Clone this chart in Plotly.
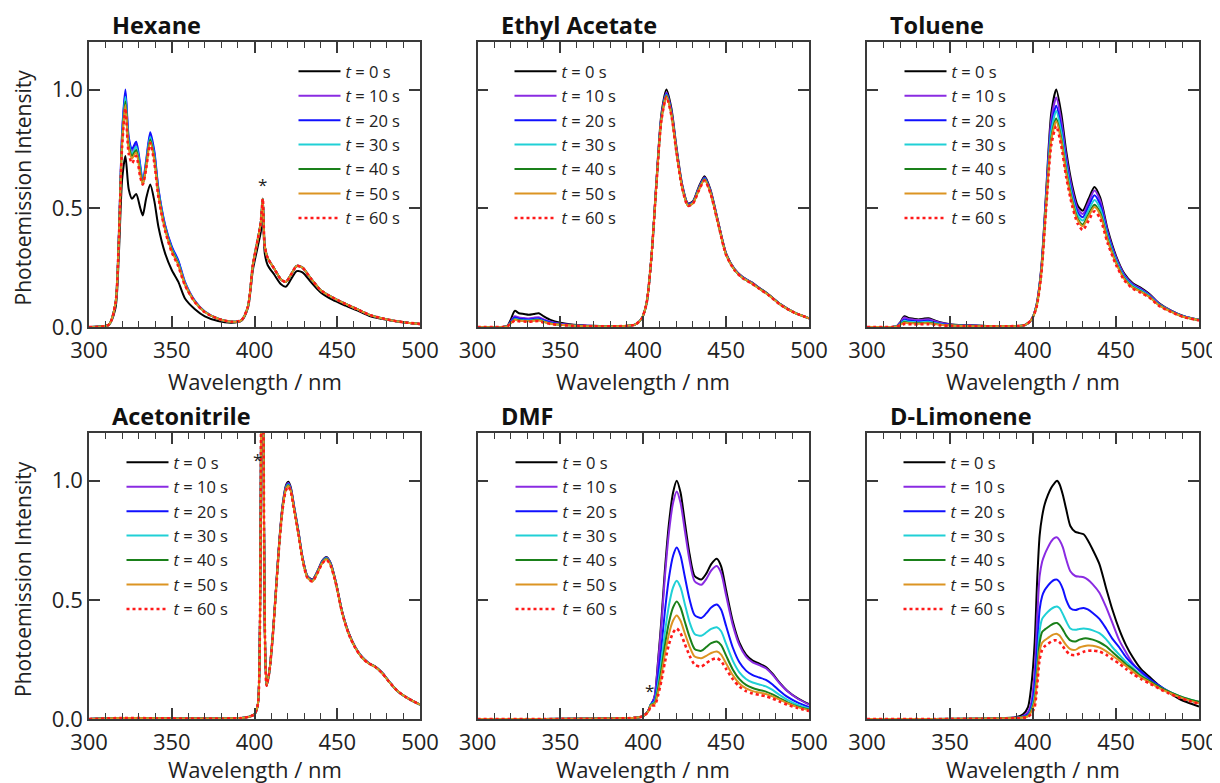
import plotly.graph_objects as go

# ---------------- data ----------------
times = ["0", "10", "20", "30", "40", "50", "60"]
colors = ["#000000", "#8a2be2", "#1010ff", "#20d0d6", "#1a801a", "#dc9422", "#ff1a1a"]

panel_titles = ["Hexane", "Ethyl Acetate", "Toluene", "Acetonitrile", "DMF", "D-Limonene"]

# Hexane
wl_hexane = [300, 312, 316, 318, 320, 322, 324, 326, 328.5, 331, 332.5, 334.5, 337, 339.5, 342, 346, 350, 354, 358, 364, 370, 378, 386, 392, 396, 399, 402, 403.8, 405, 406.2, 408, 412, 416, 419, 422, 425.5, 429, 434, 440, 447, 455, 462, 470, 480, 490, 500]
hexane_t0 = [0, 0.01, 0.08, 0.3, 0.62, 0.72, 0.58, 0.54, 0.56, 0.5, 0.47, 0.54, 0.6, 0.53, 0.42, 0.31, 0.24, 0.19, 0.12, 0.075, 0.045, 0.025, 0.018, 0.025, 0.08, 0.24, 0.34, 0.4, 0.46, 0.31, 0.26, 0.22, 0.18, 0.17, 0.2, 0.235, 0.23, 0.19, 0.145, 0.115, 0.09, 0.07, 0.045, 0.03, 0.02, 0.012]
hexane_t10 = [0, 0.01, 0.1, 0.38, 0.81, 0.985, 0.79, 0.74, 0.77, 0.67, 0.605, 0.69, 0.81, 0.73, 0.575, 0.425, 0.335, 0.275, 0.185, 0.108, 0.064, 0.035, 0.022, 0.028, 0.085, 0.26, 0.37, 0.44, 0.54, 0.34, 0.29, 0.245, 0.2, 0.19, 0.22, 0.257, 0.25, 0.205, 0.155, 0.125, 0.097, 0.075, 0.05, 0.032, 0.02, 0.013]
hexane_t20 = [0, 0.01, 0.1, 0.38, 0.82, 1.0, 0.8, 0.75, 0.78, 0.68, 0.61, 0.7, 0.82, 0.74, 0.58, 0.43, 0.34, 0.28, 0.19, 0.11, 0.065, 0.035, 0.022, 0.028, 0.085, 0.26, 0.37, 0.44, 0.54, 0.34, 0.29, 0.245, 0.2, 0.19, 0.22, 0.257, 0.25, 0.205, 0.155, 0.125, 0.097, 0.075, 0.05, 0.032, 0.02, 0.013]
hexane_t30 = [0, 0.01, 0.1, 0.37, 0.8, 0.97, 0.78, 0.73, 0.76, 0.665, 0.6, 0.69, 0.8, 0.72, 0.57, 0.42, 0.33, 0.27, 0.185, 0.107, 0.064, 0.035, 0.022, 0.028, 0.085, 0.26, 0.37, 0.44, 0.54, 0.34, 0.29, 0.245, 0.2, 0.19, 0.22, 0.257, 0.25, 0.205, 0.155, 0.125, 0.097, 0.075, 0.05, 0.032, 0.02, 0.013]
hexane_t40 = [0, 0.01, 0.1, 0.37, 0.78, 0.95, 0.765, 0.72, 0.745, 0.65, 0.6, 0.68, 0.79, 0.71, 0.56, 0.415, 0.325, 0.265, 0.18, 0.106, 0.063, 0.035, 0.022, 0.028, 0.085, 0.26, 0.37, 0.44, 0.54, 0.34, 0.29, 0.245, 0.2, 0.19, 0.22, 0.257, 0.25, 0.205, 0.155, 0.125, 0.097, 0.075, 0.05, 0.032, 0.02, 0.013]
hexane_t50 = [0, 0.01, 0.1, 0.36, 0.77, 0.935, 0.75, 0.71, 0.735, 0.64, 0.6, 0.67, 0.78, 0.7, 0.55, 0.41, 0.32, 0.26, 0.18, 0.105, 0.063, 0.035, 0.022, 0.028, 0.085, 0.26, 0.37, 0.44, 0.54, 0.34, 0.29, 0.245, 0.2, 0.19, 0.22, 0.257, 0.25, 0.205, 0.155, 0.125, 0.097, 0.075, 0.05, 0.032, 0.02, 0.013]
hexane_t60 = [0, 0.01, 0.1, 0.36, 0.76, 0.92, 0.73, 0.69, 0.72, 0.63, 0.6, 0.665, 0.775, 0.69, 0.545, 0.405, 0.315, 0.255, 0.175, 0.104, 0.062, 0.035, 0.022, 0.028, 0.085, 0.26, 0.37, 0.44, 0.54, 0.34, 0.29, 0.245, 0.2, 0.19, 0.22, 0.257, 0.25, 0.205, 0.155, 0.125, 0.097, 0.075, 0.05, 0.032, 0.02, 0.013]

# Ethyl Acetate
wl_ethyl = [300, 315, 318, 320, 322.5, 325, 328, 331, 334, 337, 340, 344, 350, 358, 370, 385, 395, 399, 402, 405, 408, 411, 414, 417, 420, 423.5, 427, 430, 433.5, 437, 440.5, 445, 450, 455, 460, 465, 470, 476, 483, 491, 500]
ethyl_t0 = [0, 0, 0.005, 0.03, 0.068, 0.058, 0.055, 0.052, 0.055, 0.058, 0.045, 0.03, 0.018, 0.01, 0.005, 0.003, 0.01, 0.035, 0.1, 0.3, 0.62, 0.9, 1.0, 0.92, 0.76, 0.6, 0.52, 0.53, 0.59, 0.635, 0.58, 0.45, 0.31, 0.245, 0.21, 0.19, 0.165, 0.135, 0.095, 0.062, 0.037]
ethyl_t10 = [0, 0, 0.004, 0.022, 0.045, 0.04, 0.038, 0.036, 0.039, 0.041, 0.032, 0.022, 0.014, 0.008, 0.004, 0.003, 0.01, 0.035, 0.1, 0.3, 0.615, 0.89, 0.987, 0.91, 0.752, 0.595, 0.517, 0.527, 0.585, 0.63, 0.575, 0.447, 0.308, 0.244, 0.209, 0.189, 0.164, 0.134, 0.094, 0.062, 0.037]
ethyl_t20 = [0, 0, 0.004, 0.02, 0.04, 0.035, 0.033, 0.031, 0.034, 0.036, 0.028, 0.019, 0.012, 0.007, 0.004, 0.003, 0.01, 0.035, 0.1, 0.3, 0.612, 0.885, 0.982, 0.905, 0.748, 0.592, 0.515, 0.525, 0.582, 0.627, 0.572, 0.445, 0.307, 0.243, 0.208, 0.188, 0.163, 0.134, 0.094, 0.062, 0.037]
ethyl_t30 = [0, 0, 0.003, 0.017, 0.034, 0.03, 0.028, 0.027, 0.03, 0.031, 0.024, 0.016, 0.01, 0.006, 0.003, 0.003, 0.01, 0.035, 0.1, 0.3, 0.61, 0.882, 0.978, 0.9, 0.745, 0.59, 0.513, 0.523, 0.58, 0.624, 0.57, 0.443, 0.306, 0.242, 0.207, 0.187, 0.162, 0.133, 0.093, 0.061, 0.037]
ethyl_t40 = [0, 0, 0.003, 0.016, 0.032, 0.028, 0.026, 0.025, 0.028, 0.029, 0.022, 0.015, 0.009, 0.006, 0.003, 0.003, 0.01, 0.035, 0.1, 0.3, 0.608, 0.878, 0.975, 0.897, 0.742, 0.588, 0.512, 0.522, 0.578, 0.622, 0.568, 0.442, 0.305, 0.241, 0.206, 0.186, 0.162, 0.133, 0.093, 0.061, 0.037]
ethyl_t50 = [0, 0, 0.003, 0.015, 0.03, 0.026, 0.025, 0.024, 0.026, 0.027, 0.021, 0.014, 0.009, 0.005, 0.003, 0.003, 0.01, 0.035, 0.1, 0.3, 0.606, 0.875, 0.972, 0.894, 0.74, 0.586, 0.511, 0.521, 0.576, 0.62, 0.566, 0.441, 0.304, 0.241, 0.206, 0.186, 0.161, 0.132, 0.093, 0.061, 0.037]
ethyl_t60 = [0, 0, 0.003, 0.013, 0.027, 0.024, 0.023, 0.022, 0.024, 0.025, 0.019, 0.013, 0.008, 0.005, 0.003, 0.003, 0.01, 0.035, 0.1, 0.3, 0.604, 0.872, 0.968, 0.89, 0.737, 0.584, 0.51, 0.52, 0.574, 0.617, 0.564, 0.44, 0.303, 0.24, 0.205, 0.185, 0.161, 0.132, 0.092, 0.061, 0.037]

# Toluene
wl_toluene = [300, 315, 318, 320, 322.5, 325, 328, 331, 334, 337, 340, 344, 350, 358, 370, 385, 395, 399, 402, 405, 408, 411, 414, 417, 420, 423.5, 427, 430, 433.5, 437, 440.5, 445, 450, 455, 460, 465, 470, 476, 483, 491, 500]
toluene_t0 = [0, 0, 0.004, 0.02, 0.045, 0.038, 0.035, 0.032, 0.035, 0.037, 0.03, 0.02, 0.012, 0.008, 0.005, 0.003, 0.008, 0.03, 0.09, 0.25, 0.58, 0.9, 1.0, 0.9, 0.74, 0.6, 0.51, 0.49, 0.54, 0.59, 0.545, 0.41, 0.3, 0.225, 0.185, 0.165, 0.14, 0.1, 0.07, 0.045, 0.03]
toluene_t10 = [0, 0, 0.004, 0.018, 0.04, 0.034, 0.031, 0.029, 0.031, 0.033, 0.027, 0.018, 0.011, 0.007, 0.004, 0.003, 0.008, 0.03, 0.088, 0.245, 0.565, 0.872, 0.966, 0.87, 0.718, 0.583, 0.496, 0.476, 0.526, 0.575, 0.532, 0.4, 0.293, 0.22, 0.181, 0.161, 0.137, 0.098, 0.069, 0.044, 0.03]
toluene_t20 = [0, 0, 0.003, 0.014, 0.031, 0.027, 0.025, 0.023, 0.025, 0.026, 0.021, 0.014, 0.009, 0.006, 0.004, 0.003, 0.008, 0.03, 0.086, 0.24, 0.55, 0.842, 0.932, 0.84, 0.695, 0.565, 0.482, 0.462, 0.508, 0.555, 0.515, 0.39, 0.286, 0.215, 0.177, 0.157, 0.134, 0.096, 0.068, 0.044, 0.03]
toluene_t30 = [0, 0, 0.003, 0.012, 0.026, 0.022, 0.021, 0.019, 0.021, 0.022, 0.018, 0.012, 0.008, 0.005, 0.003, 0.003, 0.008, 0.03, 0.085, 0.235, 0.54, 0.825, 0.91, 0.822, 0.68, 0.552, 0.47, 0.448, 0.492, 0.535, 0.498, 0.38, 0.28, 0.21, 0.173, 0.154, 0.131, 0.094, 0.067, 0.043, 0.03]
toluene_t40 = [0, 0, 0.002, 0.01, 0.021, 0.018, 0.017, 0.016, 0.017, 0.018, 0.015, 0.01, 0.007, 0.005, 0.003, 0.003, 0.008, 0.03, 0.083, 0.23, 0.525, 0.795, 0.878, 0.793, 0.657, 0.535, 0.455, 0.432, 0.475, 0.515, 0.48, 0.368, 0.272, 0.205, 0.168, 0.15, 0.128, 0.092, 0.066, 0.042, 0.029]
toluene_t50 = [0, 0, 0.002, 0.009, 0.018, 0.016, 0.015, 0.014, 0.015, 0.016, 0.013, 0.009, 0.006, 0.004, 0.003, 0.003, 0.008, 0.03, 0.082, 0.228, 0.52, 0.785, 0.866, 0.783, 0.648, 0.527, 0.448, 0.424, 0.466, 0.505, 0.472, 0.363, 0.269, 0.202, 0.166, 0.148, 0.127, 0.091, 0.065, 0.042, 0.029]
toluene_t60 = [0, 0, 0.002, 0.007, 0.013, 0.012, 0.011, 0.011, 0.012, 0.012, 0.01, 0.007, 0.005, 0.004, 0.003, 0.003, 0.008, 0.03, 0.08, 0.222, 0.508, 0.765, 0.846, 0.763, 0.632, 0.513, 0.434, 0.408, 0.448, 0.487, 0.456, 0.352, 0.262, 0.197, 0.162, 0.144, 0.124, 0.089, 0.064, 0.041, 0.028]

# Acetonitrile
wl_acetonitrile = [300, 320, 340, 360, 380, 392, 397, 400, 402, 403.3, 404, 404.7, 405.4, 406.2, 407.3, 409, 411, 413, 415, 417, 419, 420.5, 422, 424, 426.5, 429, 432, 435, 438, 441, 443.5, 446, 449, 453, 457, 461, 465, 469, 473, 477, 481, 486, 492, 500]
acetonitrile_t0 = [0, 0.004, 0.003, 0.002, 0.002, 0.004, 0.01, 0.02, 0.06, 0.4, 1.3, 2.0, 1.3, 0.4, 0.14, 0.2, 0.35, 0.55, 0.75, 0.9, 0.98, 0.995, 0.97, 0.89, 0.79, 0.68, 0.6, 0.585, 0.62, 0.665, 0.68, 0.655, 0.58, 0.45, 0.36, 0.3, 0.26, 0.235, 0.22, 0.195, 0.16, 0.12, 0.09, 0.06]
acetonitrile_t10 = [0, 0.004, 0.003, 0.002, 0.002, 0.004, 0.01, 0.02, 0.06, 0.4, 1.3, 2.0, 1.3, 0.4, 0.14, 0.2, 0.348, 0.547, 0.746, 0.895, 0.975, 0.99, 0.965, 0.886, 0.787, 0.678, 0.598, 0.583, 0.618, 0.663, 0.678, 0.653, 0.578, 0.449, 0.359, 0.3, 0.26, 0.235, 0.22, 0.195, 0.16, 0.12, 0.09, 0.06]
acetonitrile_t20 = [0, 0.004, 0.003, 0.002, 0.002, 0.004, 0.01, 0.02, 0.06, 0.4, 1.3, 2.0, 1.3, 0.4, 0.14, 0.2, 0.347, 0.545, 0.743, 0.892, 0.972, 0.987, 0.962, 0.884, 0.785, 0.676, 0.597, 0.582, 0.617, 0.661, 0.676, 0.651, 0.577, 0.448, 0.358, 0.299, 0.259, 0.234, 0.219, 0.194, 0.16, 0.12, 0.09, 0.06]
acetonitrile_t30 = [0, 0.004, 0.003, 0.002, 0.002, 0.004, 0.01, 0.02, 0.06, 0.4, 1.3, 2.0, 1.3, 0.4, 0.14, 0.2, 0.346, 0.543, 0.741, 0.889, 0.969, 0.984, 0.959, 0.881, 0.783, 0.674, 0.595, 0.58, 0.615, 0.659, 0.674, 0.649, 0.576, 0.447, 0.357, 0.299, 0.259, 0.234, 0.219, 0.194, 0.16, 0.12, 0.09, 0.06]
acetonitrile_t40 = [0, 0.004, 0.003, 0.002, 0.002, 0.004, 0.01, 0.02, 0.06, 0.4, 1.3, 2.0, 1.3, 0.4, 0.14, 0.2, 0.345, 0.541, 0.739, 0.887, 0.966, 0.981, 0.957, 0.879, 0.781, 0.672, 0.594, 0.579, 0.614, 0.657, 0.672, 0.647, 0.575, 0.446, 0.357, 0.298, 0.258, 0.234, 0.219, 0.194, 0.159, 0.12, 0.09, 0.06]
acetonitrile_t50 = [0, 0.004, 0.003, 0.002, 0.002, 0.004, 0.01, 0.02, 0.06, 0.4, 1.3, 2.0, 1.3, 0.4, 0.14, 0.2, 0.344, 0.54, 0.737, 0.884, 0.963, 0.978, 0.955, 0.877, 0.779, 0.671, 0.593, 0.578, 0.613, 0.655, 0.67, 0.645, 0.574, 0.445, 0.356, 0.298, 0.258, 0.233, 0.218, 0.193, 0.159, 0.12, 0.09, 0.06]
acetonitrile_t60 = [0, 0.004, 0.003, 0.002, 0.002, 0.004, 0.01, 0.02, 0.06, 0.4, 1.3, 2.0, 1.3, 0.4, 0.14, 0.2, 0.343, 0.538, 0.735, 0.882, 0.96, 0.975, 0.952, 0.875, 0.777, 0.669, 0.592, 0.577, 0.612, 0.653, 0.668, 0.643, 0.573, 0.444, 0.355, 0.297, 0.257, 0.233, 0.218, 0.193, 0.159, 0.12, 0.09, 0.06]

# DMF
wl_dmf = [300, 340, 380, 395, 400, 403, 404.5, 405.5, 407, 409, 411, 413, 415.5, 418, 420.2, 422.5, 425, 428, 431, 435, 438, 441, 444.4, 447, 450, 454, 458, 462, 466, 470, 474, 478, 482, 487, 493, 500]
dmf_t0 = [0, 0, 0.002, 0.005, 0.012, 0.035, 0.06, 0.07, 0.1, 0.25, 0.42, 0.62, 0.82, 0.95, 1.0, 0.95, 0.83, 0.69, 0.6, 0.585, 0.61, 0.65, 0.672, 0.64, 0.54, 0.41, 0.32, 0.27, 0.245, 0.232, 0.218, 0.19, 0.155, 0.118, 0.088, 0.062]
dmf_t10 = [0, 0, 0.002, 0.005, 0.012, 0.035, 0.06, 0.07, 0.1, 0.24, 0.4, 0.592, 0.783, 0.907, 0.955, 0.907, 0.795, 0.663, 0.578, 0.563, 0.587, 0.623, 0.642, 0.612, 0.518, 0.395, 0.31, 0.262, 0.238, 0.226, 0.213, 0.186, 0.152, 0.116, 0.086, 0.06]
dmf_t20 = [0, 0, 0.002, 0.005, 0.012, 0.035, 0.06, 0.07, 0.085, 0.185, 0.305, 0.448, 0.592, 0.685, 0.72, 0.685, 0.6, 0.5, 0.436, 0.424, 0.443, 0.468, 0.48, 0.458, 0.39, 0.3, 0.238, 0.203, 0.184, 0.174, 0.164, 0.145, 0.12, 0.093, 0.07, 0.05]
dmf_t30 = [0, 0, 0.002, 0.005, 0.012, 0.035, 0.06, 0.065, 0.075, 0.15, 0.245, 0.36, 0.477, 0.552, 0.58, 0.552, 0.485, 0.405, 0.357, 0.349, 0.363, 0.378, 0.385, 0.368, 0.315, 0.245, 0.196, 0.168, 0.153, 0.145, 0.137, 0.122, 0.102, 0.08, 0.06, 0.044]
dmf_t40 = [0, 0, 0.002, 0.005, 0.012, 0.033, 0.058, 0.062, 0.068, 0.128, 0.21, 0.306, 0.405, 0.468, 0.493, 0.468, 0.41, 0.343, 0.294, 0.286, 0.302, 0.318, 0.325, 0.31, 0.266, 0.208, 0.167, 0.143, 0.13, 0.122, 0.115, 0.103, 0.088, 0.07, 0.053, 0.04]
dmf_t50 = [0, 0, 0.002, 0.005, 0.012, 0.032, 0.056, 0.06, 0.064, 0.113, 0.185, 0.27, 0.357, 0.413, 0.434, 0.412, 0.361, 0.303, 0.262, 0.255, 0.265, 0.277, 0.283, 0.27, 0.233, 0.184, 0.149, 0.128, 0.117, 0.111, 0.105, 0.095, 0.082, 0.066, 0.05, 0.037]
dmf_t60 = [0, 0, 0.002, 0.005, 0.012, 0.03, 0.053, 0.056, 0.058, 0.1, 0.163, 0.236, 0.313, 0.362, 0.38, 0.36, 0.316, 0.265, 0.228, 0.22, 0.234, 0.248, 0.255, 0.243, 0.21, 0.167, 0.136, 0.117, 0.107, 0.101, 0.095, 0.086, 0.074, 0.06, 0.046, 0.034]

# D-Limonene
wl_limonene = [300, 340, 380, 390, 394, 397, 399, 401, 402.5, 404, 405.5, 407, 409, 411, 413, 414.5, 416, 418, 420, 422.5, 425.5, 428, 430.5, 433, 436, 440, 444, 448, 452, 456, 460, 465, 470, 476, 482, 488, 494, 500]
limonene_t0 = [0, 0, 0.002, 0.008, 0.02, 0.05, 0.14, 0.32, 0.58, 0.77, 0.85, 0.9, 0.94, 0.97, 0.99, 1.0, 0.985, 0.94, 0.88, 0.81, 0.785, 0.78, 0.775, 0.75, 0.71, 0.65, 0.55, 0.455, 0.375, 0.31, 0.26, 0.21, 0.178, 0.14, 0.11, 0.085, 0.067, 0.052]
limonene_t10 = [0, 0, 0.002, 0.006, 0.012, 0.03, 0.07, 0.2, 0.42, 0.6, 0.66, 0.69, 0.72, 0.745, 0.76, 0.762, 0.75, 0.72, 0.67, 0.62, 0.6, 0.597, 0.595, 0.585, 0.565, 0.53, 0.47, 0.4, 0.33, 0.28, 0.235, 0.195, 0.163, 0.135, 0.112, 0.093, 0.078, 0.066]
limonene_t20 = [0, 0, 0.002, 0.005, 0.01, 0.02, 0.05, 0.14, 0.3, 0.46, 0.515, 0.54, 0.56, 0.575, 0.584, 0.585, 0.575, 0.545, 0.5, 0.465, 0.457, 0.463, 0.466, 0.46, 0.445, 0.42, 0.38, 0.335, 0.3, 0.26, 0.23, 0.2, 0.17, 0.14, 0.115, 0.095, 0.08, 0.07]
limonene_t30 = [0, 0, 0.002, 0.004, 0.008, 0.015, 0.04, 0.1, 0.22, 0.37, 0.42, 0.435, 0.45, 0.462, 0.47, 0.472, 0.465, 0.44, 0.41, 0.38, 0.374, 0.378, 0.38, 0.378, 0.372, 0.36, 0.335, 0.3, 0.27, 0.24, 0.215, 0.185, 0.16, 0.135, 0.115, 0.097, 0.083, 0.072]
limonene_t40 = [0, 0, 0.002, 0.004, 0.007, 0.013, 0.035, 0.08, 0.19, 0.32, 0.365, 0.375, 0.385, 0.395, 0.402, 0.403, 0.395, 0.375, 0.35, 0.33, 0.325, 0.333, 0.338, 0.338, 0.333, 0.322, 0.305, 0.28, 0.255, 0.23, 0.21, 0.18, 0.16, 0.135, 0.115, 0.097, 0.083, 0.072]
limonene_t50 = [0, 0, 0.002, 0.004, 0.006, 0.011, 0.03, 0.07, 0.17, 0.285, 0.32, 0.33, 0.34, 0.35, 0.356, 0.357, 0.35, 0.33, 0.31, 0.293, 0.29, 0.3, 0.305, 0.308, 0.307, 0.3, 0.285, 0.265, 0.245, 0.222, 0.2, 0.175, 0.155, 0.13, 0.11, 0.093, 0.078, 0.066]
limonene_t60 = [0, 0, 0.002, 0.003, 0.005, 0.009, 0.022, 0.05, 0.14, 0.25, 0.29, 0.305, 0.315, 0.325, 0.33, 0.33, 0.322, 0.305, 0.285, 0.27, 0.268, 0.275, 0.282, 0.286, 0.287, 0.283, 0.27, 0.25, 0.232, 0.21, 0.19, 0.168, 0.15, 0.127, 0.107, 0.09, 0.076, 0.064]

panel_wl = [wl_hexane, wl_ethyl, wl_toluene, wl_acetonitrile, wl_dmf, wl_limonene]
panel_series = [
    [hexane_t0, hexane_t10, hexane_t20, hexane_t30, hexane_t40, hexane_t50, hexane_t60],
    [ethyl_t0, ethyl_t10, ethyl_t20, ethyl_t30, ethyl_t40, ethyl_t50, ethyl_t60],
    [toluene_t0, toluene_t10, toluene_t20, toluene_t30, toluene_t40, toluene_t50, toluene_t60],
    [acetonitrile_t0, acetonitrile_t10, acetonitrile_t20, acetonitrile_t30, acetonitrile_t40, acetonitrile_t50, acetonitrile_t60],
    [dmf_t0, dmf_t10, dmf_t20, dmf_t30, dmf_t40, dmf_t50, dmf_t60],
    [limonene_t0, limonene_t10, limonene_t20, limonene_t30, limonene_t40, limonene_t50, limonene_t60],
]

# asterisk markers (panel index, wavelength, intensity)
star_panel = [0, 3, 4]
star_wl = [405, 402, 404]
star_y = [0.6, 1.09, 0.12]

# ---------------- layout geometry (screen pixels) ----------------
OFF = 8                      # page body margin of the browser
W, H = 1220 - OFF, 783 - OFF  # figure size so that it fills the window
col_px = [(89, 420), (477.5, 809), (867, 1199)]
row_px = [(42, 327), (433, 719)]
xtitle_dy = [54, 50]
# legend: screen x of the first line sample start, screen y of the first entry centre
legend_px = [(300.5, 72), (516.5, 72), (906.5, 72), (128.5, 463), (517.5, 463), (905.5, 463)]


def px(sx):
    return (sx - OFF) / W


def py(sy):
    return 1 - (sy - OFF) / H


FONT = "Open Sans"
AX = "#3a3a3a"

fig = go.Figure()
for p in range(6):
    k = p + 1
    xa = "x" if k == 1 else f"x{k}"
    ya = "y" if k == 1 else f"y{k}"
    lg = "legend" if k == 1 else f"legend{k}"
    for i, t in enumerate(times):
        fig.add_trace(go.Scatter(
            x=panel_wl[p], y=panel_series[p][i], mode="lines",
            name=f"<i>t</i> = {t} s",
            line=dict(color=colors[i], width=2.6 if i == 6 else 2,
                      dash="dot" if i == 6 else "solid",
                      shape="spline", smoothing=0.7),
            xaxis=xa, yaxis=ya, legend=lg, cliponaxis=True,
        ))

layout = dict(width=W, height=H, margin=dict(l=0, r=0, t=0, b=0, autoexpand=False),
              paper_bgcolor="white", plot_bgcolor="white",
              font=dict(family=FONT, color="#222222", size=18))
annotations = []
for p in range(6):
    k = p + 1
    r, c = divmod(p, 3)
    x0, x1 = col_px[c]
    y0, y1 = row_px[r]
    suffix = "" if k == 1 else str(k)
    layout[f"xaxis{suffix}"] = dict(
        domain=[px(x0), px(x1)], anchor=f"y{suffix}" if k > 1 else "y",
        range=[300, 500], tickvals=[300, 350, 400, 450, 500],
        ticks="inside", ticklen=11, tickwidth=1.5, tickcolor=AX,
        minor=dict(dtick=10, ticks="inside", ticklen=6, tickwidth=1.3, tickcolor=AX),
        showline=True, linecolor=AX, linewidth=1.6, mirror="allticks",
        showgrid=False, zeroline=False, automargin=False, ticklabelstandoff=3,
        tickfont=dict(size=22, family=FONT, color="#222"),
    )
    layout[f"yaxis{suffix}"] = dict(
        domain=[py(y1), py(y0)], anchor=f"x{suffix}" if k > 1 else "x",
        range=[0, 1.2], tickvals=[0, 0.5, 1.0],
        ticktext=["0.0", "0.5", "1.0"],
        ticks="inside", ticklen=11, tickwidth=1.5, tickcolor=AX,
        showline=True, linecolor=AX, linewidth=1.6, mirror="allticks",
        showgrid=False, zeroline=False, showticklabels=(c == 0), automargin=False,
        tickfont=dict(size=22, family=FONT, color="#222"),
    )
    lx, ly = legend_px[p]
    layout["legend" if k == 1 else f"legend{k}"] = dict(
        x=px(lx - 7), y=py(ly - 18), xanchor="left", yanchor="top",
        bgcolor="rgba(0,0,0,0)", font=dict(size=16.5, family=FONT, color="#222"),
        tracegroupgap=0, itemwidth=42,
    )
    # panel title
    annotations.append(dict(
        text=f"<b>{panel_titles[p]}</b>", x=px(x0 + 21), y=py(y0 - 17),
        xref="paper", yref="paper", xanchor="left", yanchor="middle",
        showarrow=False, font=dict(size=23.5, family=FONT, color="#111"),
    ))
    # x axis title
    annotations.append(dict(
        text="Wavelength / nm", x=px((x0 + x1) / 2), y=py(y1 + xtitle_dy[r]),
        xref="paper", yref="paper", xanchor="center", yanchor="middle",
        showarrow=False, font=dict(size=22, family=FONT, color="#222"),
    ))
    if c == 0:
        annotations.append(dict(
            text="Photoemission Intensity", x=px(23), y=py((y0 + y1) / 2 + 3),
            xref="paper", yref="paper", xanchor="center", yanchor="middle",
            textangle=-90, showarrow=False,
            font=dict(size=21, family=FONT, color="#222"),
        ))

for sp, sw, sy in zip(star_panel, star_wl, star_y):
    k = sp + 1
    suffix = "" if k == 1 else str(k)
    annotations.append(dict(
        text="*", x=sw, y=sy, xref=f"x{suffix}", yref=f"y{suffix}",
        showarrow=False, font=dict(size=17, family=FONT, color="#222"),
    ))

layout["annotations"] = annotations
fig.update_layout(**layout)
fig.write_html("out.html")
